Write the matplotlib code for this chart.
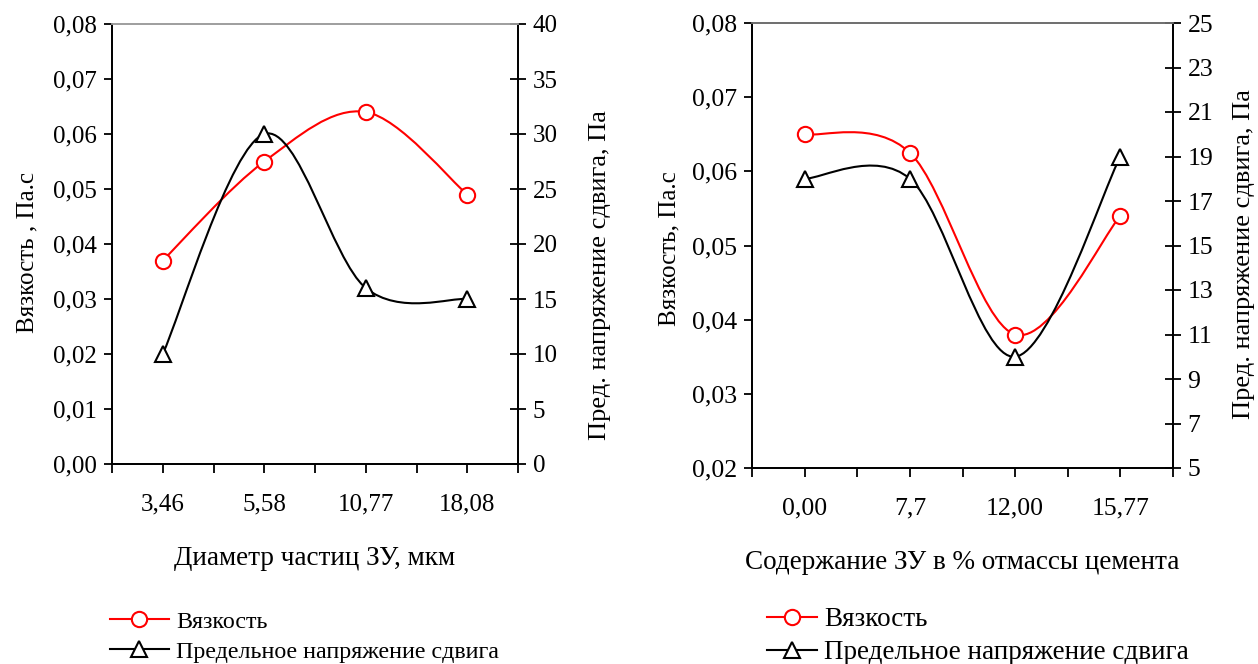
import matplotlib
matplotlib.use("Agg")
import matplotlib.pyplot as plt
from matplotlib.path import Path
from matplotlib.patches import PathPatch
from matplotlib.lines import Line2D
from matplotlib.ticker import FixedLocator, FuncFormatter

plt.rcParams['font.family'] = ['Liberation Serif', 'DejaVu Serif']

# ---------------- data ----------------
left_categories = ['3,46', '5,58', '10,77', '18,08']
left_viscosity = [0.037, 0.055, 0.064, 0.049]
left_stress = [10, 30, 16, 15]

right_categories = ['0,00', '7,7', '12,00', '15,77']
right_viscosity = [0.065, 0.0625, 0.038, 0.054]
right_stress = [18, 18, 10, 19]

left_visc_ticks = [0.00, 0.01, 0.02, 0.03, 0.04, 0.05, 0.06, 0.07, 0.08]
left_stress_ticks = [0, 5, 10, 15, 20, 25, 30, 35, 40]
right_visc_ticks = [0.02, 0.03, 0.04, 0.05, 0.06, 0.07, 0.08]
right_stress_ticks = [5, 7, 9, 11, 13, 15, 17, 19, 21, 23, 25]

left_xlabel = 'Диаметр частиц ЗУ, мкм'
right_xlabel = 'Содержание ЗУ в % отмассы цемента'
left_ylabel = 'Вязкость , Па.с'
right_ylabel_left = 'Вязкость, Па.с'
y2_label = 'Пред. напряжение сдвига, Па'
legend_labels = ['Вязкость', 'Предельное напряжение сдвига']

W, H = 1258, 664


def smooth_path(xs, ys):
    """Excel-style smoothed line as cubic Bezier segments."""
    n = len(xs)
    verts = [(xs[0], ys[0])]
    codes = [Path.MOVETO]
    for i in range(n - 1):
        a = i - 1 if i > 0 else i
        b = i + 2 if i + 2 < n else i + 1
        c1 = (xs[i] + (xs[i + 1] - xs[a]) / 6.0, ys[i] + (ys[i + 1] - ys[a]) / 6.0)
        c2 = (xs[i + 1] - (xs[b] - xs[i]) / 6.0, ys[i + 1] - (ys[b] - ys[i]) / 6.0)
        verts += [c1, c2, (xs[i + 1], ys[i + 1])]
        codes += [Path.CURVE4] * 3
    return Path(verts, codes)


def comma(fmt):
    return FuncFormatter(lambda v, p: (fmt % v).replace('.', ','))


def make_panel(fig, box, cats, visc, stress, vticks, sticks, vfmt, xlabel, ylabel,
               top_color, ylab_xy, y2lab_xy, leg_anchor, tick_fs, leg_fs,
               leg_hl, leg_pad, leg_sp):
    l, t, r, b = box
    ax = fig.add_axes([l / W, 1 - b / H, (r - l) / W, (b - t) / H])
    x = list(range(len(cats)))
    ax.set_xlim(-0.5, len(cats) - 0.5)
    ax.set_ylim(vticks[0], vticks[-1])
    ax2 = ax.twinx()
    ax2.set_ylim(sticks[0], sticks[-1])

    for a in (ax, ax2):
        for s in a.spines.values():
            s.set_linewidth(1.3)
            s.set_color('black')
        a.spines['top'].set_color(top_color)
        a.set_facecolor('none')

    ax.xaxis.set_major_locator(FixedLocator(x))
    ax.set_xticklabels(cats)
    ax.xaxis.set_minor_locator(FixedLocator([i - 0.5 for i in range(len(cats) + 1)]))
    ax.tick_params(axis='x', which='both', direction='out', length=6.5, width=1.3,
                   labelsize=tick_fs, pad=15)
    ax.yaxis.set_major_locator(FixedLocator(vticks))
    ax.yaxis.set_major_formatter(comma(vfmt))
    ax.tick_params(axis='y', direction='out', length=6, width=1.3, labelsize=tick_fs, pad=5)
    ax2.yaxis.set_major_locator(FixedLocator(sticks))
    ax2.tick_params(axis='y', direction='inout', length=11, width=1.3, labelsize=tick_fs,
                    pad=5)

    ax.set_xlabel(xlabel, fontsize=19.5, labelpad=22)
    ax.set_ylabel(ylabel, fontsize=18)
    ax2.set_ylabel(y2_label, fontsize=19)
    ax.yaxis.set_label_coords(*ylab_xy)
    ax2.yaxis.set_label_coords(*y2lab_xy)

    ax.add_patch(PathPatch(smooth_path(x, visc), fill=False, edgecolor='#ff0000',
                           lw=1.5, zorder=3))
    ax.plot(x, visc, ls='none', marker='o', ms=11, mfc='white', mec='#ff0000',
            mew=1.5, zorder=4)
    ax2.add_patch(PathPatch(smooth_path(x, stress), fill=False, edgecolor='black',
                            lw=1.5, zorder=3))
    ax2.plot(x, stress, ls='none', marker='^', ms=12, mfc='white', mec='black',
             mew=1.5, zorder=4)

    handles = [Line2D([], [], color='#ff0000', lw=1.5, marker='o', ms=11, mfc='white',
                      mec='#ff0000', mew=1.5),
               Line2D([], [], color='black', lw=1.5, marker='^', ms=12, mfc='white',
                      mec='black', mew=1.5)]
    fig.legend(handles, legend_labels, loc='upper left',
               bbox_to_anchor=(leg_anchor[0] / W, 1 - leg_anchor[1] / H),
               frameon=False, fontsize=leg_fs, handlelength=leg_hl,
               handletextpad=leg_pad, labelspacing=leg_sp, borderpad=0,
               borderaxespad=0)
    return ax, ax2


fig = plt.figure(figsize=(W / 100, H / 100), dpi=100)
make_panel(fig, (112, 24, 518, 464), left_categories, left_viscosity, left_stress,
           left_visc_ticks, left_stress_ticks, '%.2f', left_xlabel, left_ylabel,
           '#a0a0a0', (-0.18, 0.48), (1.175, 0.43), (110, 611),
           18, 17.3, 2.45, 0.3, 0.33)
make_panel(fig, (752, 23, 1173, 468), right_categories, right_viscosity, right_stress,
           right_visc_ticks, right_stress_ticks, '%.2f', right_xlabel, right_ylabel_left,
           '#707070', (-0.171, 0.494), (1.1425, 0.481), (767, 607),
           18.5, 19.5, 1.85, 0.26, 0.3)
fig.savefig('out.png', dpi=100)
